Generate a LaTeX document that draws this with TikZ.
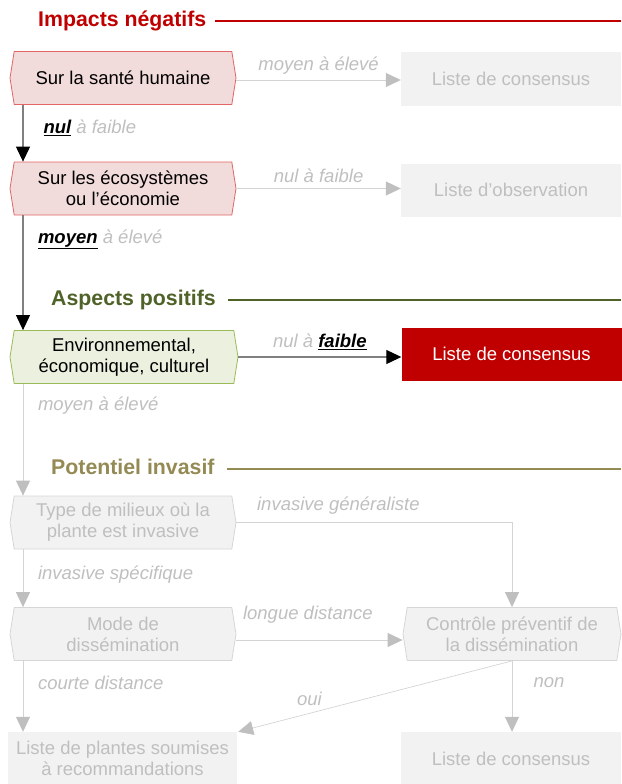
\documentclass[tikz,border=0pt]{standalone}
\usepackage{fontspec}
\setmainfont{Liberation Sans}
\usepackage{tikz}
\usetikzlibrary{arrows.meta, shapes.symbols, positioning}
\definecolor{myred}{RGB}{192,0,0}
\definecolor{mygreen}{RGB}{79,98,40}
\definecolor{myolive}{RGB}{148,138,84}
\definecolor{hdrpink}{RGB}{242,220,219}
\definecolor{edgepink}{RGB}{226,100,100}
\definecolor{hdrgreen}{RGB}{235,241,222}
\definecolor{edgegreen}{RGB}{155,187,89}
\definecolor{boxgray}{RGB}{242,242,242}
\definecolor{edgegray}{RGB}{214,214,214}
\definecolor{txtgray}{RGB}{191,191,191}
\definecolor{linegray}{RGB}{212,212,212}
\definecolor{tipgray}{RGB}{191,191,191}
\definecolor{darkline}{RGB}{128,128,128}
\newcommand{\bodyfont}{\fontsize{18.5}{21}\selectfont}
\newcommand{\hdrfont}{\fontsize{21.3}{25}\selectfont\bfseries}
\newcommand{\keyword}[1]{{\color{black}\underline{\textbf{#1}}}}
\tikzset{
  crit/.style={signal, signal to=west and east, signal pointer angle=162,
    minimum width=226, minimum height=53, inner sep=0pt, align=center,
    font=\bodyfont, line width=0.8pt},
  pinkcrit/.style={crit, draw=edgepink, fill=hdrpink},
  greencrit/.style={crit, draw=edgegreen, fill=hdrgreen},
  graycrit/.style={crit, draw=edgegray, fill=boxgray, text=txtgray},
  listbox/.style={rectangle, fill=boxgray, text=txtgray, minimum width=220,
    minimum height=53, inner sep=0pt, align=center, font=\bodyfont},
  redlist/.style={listbox, fill=myred, text=white},
  hdr/.style={anchor=west, inner sep=0pt, font=\hdrfont},
  hdrline/.style={line width=1.5pt},
  lbl/.style={font=\bodyfont\itshape, text=txtgray, inner sep=0pt},
  onarrow/.style={draw=darkline, line width=1.1pt,
    -{Triangle[length=15pt, width=14pt, color=black]}},
  offarrow/.style={draw=linegray, line width=1pt,
    -{Triangle[length=15pt, width=14pt, color=tipgray]}}
}

\begin{document}
\begin{tikzpicture}[x=1pt, y=-1pt]
  \useasboundingbox (0,0) rectangle (621,784);
  \coordinate (spine) at (23,0);
  \coordinate (edge) at (621,0);

  % Impacts negatifs
  \node[hdr, text=myred] (hdrneg) at (38,21) {Impacts négatifs};
  \draw[hdrline, myred] ([xshift=9pt, yshift=5.5pt]hdrneg.base east) -- ([yshift=5.5pt]hdrneg.base east -| edge);
  \node[pinkcrit] (sante) at (123,78) {Sur la santé humaine};
  \node[listbox] (consA) at (511,79) {Liste de consensus};
  \node[pinkcrit] (eco) at (123,188.5) {Sur les écosystèmes\\ou l’économie};
  \node[listbox] (obs) at (511,190) {Liste d'observation};

  \draw[offarrow] ([yshift=-2pt]sante.east) -- node[lbl, above=5pt] {moyen à élevé} ([yshift=-2pt]sante.east -| consA.west);
  \draw[offarrow] (eco.east) -- node[lbl, above=5pt] {nul à faible} (eco.east -| obs.west);
  \draw[onarrow] (sante.south -| spine) -- node[lbl, pos=0.4, right=20pt] {\keyword{nul} à faible} (eco.north -| spine);

  % Aspects positifs
  \node[hdr, text=mygreen] (hdrpos) at (51,300) {Aspects positifs};
  \draw[hdrline, mygreen] ([xshift=12pt, yshift=5.5pt]hdrpos.base east) -- ([yshift=5.5pt]hdrpos.base east -| edge);
  \node[greencrit, minimum width=228] (envir) at (124,357) {Environnemental,\\économique, culturel};
  \node[redlist] (consB) at (511.5,354) {Liste de consensus};

  \draw[onarrow] (eco.south -| spine) -- node[lbl, pos=0.21, right=14.5pt] {\keyword{moyen} à élevé} (envir.north -| spine);
  \draw[onarrow] (envir.east) -- node[lbl, above=7pt] {nul à \keyword{faible}} (envir.east -| consB.west);

  % Potentiel invasif
  \node[hdr, text=myolive] (hdrinv) at (51,467) {Potentiel invasif};
  \draw[hdrline, myolive] ([xshift=12pt, yshift=5.5pt]hdrinv.base east) -- ([yshift=5.5pt]hdrinv.base east -| edge);
  \node[graycrit] (milieux) at (123,522.5) {Type de milieux où la\\plante est invasive};
  \node[graycrit] (mode) at (123,634) {Mode de\\dissémination};
  \node[graycrit, minimum width=218] (controle) at (512,634) {Contrôle préventif de\\la dissémination};
  \node[listbox, minimum width=229] (plantes) at (122.5,758.5) {Liste de plantes soumises\\à recommandations};
  \node[listbox] (consC) at (511,758.5) {Liste de consensus};

  \draw[offarrow] (envir.south -| spine) -- node[lbl, pos=0.19, right=14.5pt] {moyen à élevé} (milieux.north -| spine);
  \draw[offarrow] (milieux.east) -| node[lbl, pos=0.185, above=8pt] {invasive généraliste} (controle.north);
  \draw[offarrow] (milieux.south -| spine) -- node[lbl, pos=0.44, right=14.5pt] {invasive spécifique} (mode.north -| spine);
  \draw[offarrow] ([yshift=-6pt]mode.east) -- node[lbl, pos=0.43, above=16pt] {longue distance} ([yshift=-6pt]mode.east -| controle.west);
  \draw[offarrow] (mode.south -| spine) -- node[lbl, pos=0.31, right=14.5pt] {courte distance} (plantes.north -| spine);
  \draw[offarrow] (controle.south) -- node[lbl, pos=0.31, right=21pt] {non} (controle.south |- consC.north);
  \draw[offarrow, line width=0.7pt] (controle.south) -- node[lbl, pos=0.74, above=7pt] {oui} ([xshift=1pt]plantes.north east);
\end{tikzpicture}
\end{document}
